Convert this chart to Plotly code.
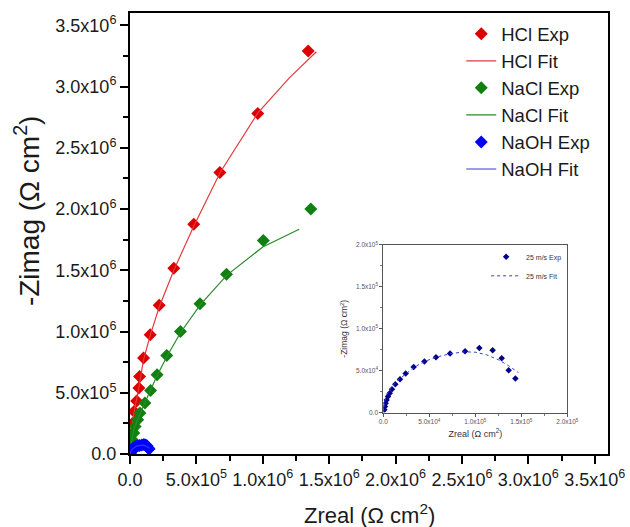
import plotly.graph_objects as go

# ---- Nyquist data (Zreal, -Zimag) in ohm cm^2 ----
hcl_exp_x = [0.002e6, 0.005e6, 0.010e6, 0.018e6, 0.030e6, 0.050e6, 0.067e6, 0.072e6,
             0.102e6, 0.152e6, 0.220e6, 0.330e6, 0.480e6, 0.677e6, 0.962e6, 1.342e6]
hcl_exp_y = [0.050e6, 0.100e6, 0.160e6, 0.250e6, 0.347e6, 0.432e6, 0.538e6, 0.632e6,
             0.783e6, 0.973e6, 1.215e6, 1.517e6, 1.876e6, 2.297e6, 2.780e6, 3.290e6]
hcl_fit_x = [0.0, 0.003e6, 0.010e6, 0.030e6, 0.050e6, 0.070e6, 0.100e6, 0.150e6, 0.220e6,
             0.330e6, 0.480e6, 0.680e6, 0.960e6, 1.200e6, 1.404e6]
hcl_fit_y = [0.0, 0.080e6, 0.180e6, 0.340e6, 0.440e6, 0.560e6, 0.760e6, 0.960e6, 1.200e6,
             1.500e6, 1.860e6, 2.300e6, 2.780e6, 3.070e6, 3.284e6]

nacl_exp_x = [0.003e6, 0.006e6, 0.010e6, 0.017e6, 0.028e6, 0.038e6, 0.058e6, 0.075e6,
              0.112e6, 0.155e6, 0.204e6, 0.277e6, 0.380e6, 0.527e6, 0.727e6, 1.004e6, 1.362e6]
nacl_exp_y = [0.025e6, 0.050e6, 0.080e6, 0.117e6, 0.171e6, 0.225e6, 0.280e6, 0.334e6,
              0.416e6, 0.518e6, 0.647e6, 0.804e6, 1.000e6, 1.226e6, 1.468e6, 1.742e6, 2.001e6]
nacl_fit_x = [0.0, 0.005e6, 0.015e6, 0.030e6, 0.060e6, 0.100e6, 0.150e6, 0.200e6, 0.280e6,
              0.380e6, 0.530e6, 0.730e6, 1.000e6, 1.274e6]
nacl_fit_y = [0.0, 0.060e6, 0.120e6, 0.200e6, 0.290e6, 0.390e6, 0.510e6, 0.630e6, 0.800e6,
              0.990e6, 1.220e6, 1.460e6, 1.690e6, 1.835e6]

naoh_exp_x = [0.011e5, 0.018e5, 0.025e5, 0.036e5, 0.051e5, 0.069e5, 0.094e5, 0.130e5,
              0.181e5, 0.243e5, 0.330e5, 0.446e5, 0.572e5, 0.725e5, 0.888e5, 1.043e5,
              1.188e5, 1.286e5, 1.362e5, 1.435e5]
naoh_exp_y = [0.032e5, 0.072e5, 0.111e5, 0.151e5, 0.191e5, 0.231e5, 0.278e5, 0.338e5,
              0.398e5, 0.465e5, 0.545e5, 0.608e5, 0.660e5, 0.704e5, 0.732e5, 0.771e5,
              0.744e5, 0.648e5, 0.505e5, 0.406e5]
naoh_fit_x = [0.0, 0.005e5, 0.015e5, 0.040e5, 0.080e5, 0.150e5, 0.250e5, 0.350e5, 0.450e5,
              0.570e5, 0.720e5, 0.880e5, 1.000e5, 1.120e5, 1.250e5, 1.360e5, 1.467e5]
naoh_fit_y = [0.0, 0.060e5, 0.140e5, 0.220e5, 0.290e5, 0.380e5, 0.470e5, 0.550e5, 0.610e5,
              0.660e5, 0.700e5, 0.725e5, 0.720e5, 0.690e5, 0.630e5, 0.560e5, 0.477e5]

# ---- tick labels ----
main_tickvals = [0, 0.5e6, 1.0e6, 1.5e6, 2.0e6, 2.5e6, 3.0e6, 3.5e6]
main_ticktext = ["0.0", "5.0x10<sup>5</sup>", "1.0x10<sup>6</sup>", "1.5x10<sup>6</sup>",
                 "2.0x10<sup>6</sup>", "2.5x10<sup>6</sup>", "3.0x10<sup>6</sup>",
                 "3.5x10<sup>6</sup>"]
inset_tickvals = [0, 0.5e5, 1.0e5, 1.5e5, 2.0e5]
inset_ticktext = ["0.0", "5.0x10<sup>4</sup>", "1.0x10<sup>5</sup>", "1.5x10<sup>5</sup>",
                  "2.0x10<sup>5</sup>"]

FONT = "Liberation Sans, Arial, sans-serif"
RED, GREEN, BLUE, NAVY = "#dd0000", "#108010", "#0000ff", "#00008b"

fig = go.Figure()

def exp_trace(x, y, name, color):
    return go.Scatter(x=x, y=y, mode="markers", name=name,
                      marker=dict(symbol="diamond", size=10, color=color, line=dict(width=0)))

def fit_trace(x, y, name, color):
    return go.Scatter(x=x, y=y, mode="lines", name=name,
                      line=dict(color=color, width=1.2))

fig.add_trace(exp_trace(hcl_exp_x, hcl_exp_y, "HCl Exp", RED))
fig.add_trace(fit_trace(hcl_fit_x, hcl_fit_y, "HCl Fit", "#e33a40"))
fig.add_trace(exp_trace(nacl_exp_x, nacl_exp_y, "NaCl Exp", GREEN))
fig.add_trace(fit_trace(nacl_fit_x, nacl_fit_y, "NaCl Fit", "#2a8a2a"))
fig.add_trace(exp_trace(naoh_exp_x, naoh_exp_y, "NaOH Exp", BLUE))
fig.add_trace(fit_trace(naoh_fit_x, naoh_fit_y, "NaOH Fit", "#3a3ae0"))

# inset: NaOH spectrum on its own scale
fig.add_trace(go.Scatter(x=naoh_exp_x, y=naoh_exp_y, mode="markers", name="25 m/s Exp",
                         xaxis="x2", yaxis="y2", legend="legend2",
                         marker=dict(symbol="diamond", size=5, color=NAVY, line=dict(width=0))))
fig.add_trace(go.Scatter(x=naoh_fit_x, y=naoh_fit_y, mode="lines", name="25 m/s Fit",
                         xaxis="x2", yaxis="y2", legend="legend2",
                         line=dict(color="#3a3ad0", width=1, dash="dot")))

main_axis = dict(
    showline=True, linewidth=2, linecolor="black", mirror=True,
    ticks="outside", ticklen=8, tickwidth=1.5, tickcolor="black",
    minor=dict(ticks="outside", ticklen=5, tickwidth=1.5, tickcolor="black",
               tickmode="linear", tick0=0, dtick=2.5e5),
    showgrid=False, zeroline=False, automargin=False, tickangle=0,
    tickmode="array", tickvals=main_tickvals, ticktext=main_ticktext,
    tickfont=dict(family=FONT, size=18, color="#1a1a1a"),
    range=[0, 3.6e6],
)
inset_axis = dict(
    showline=True, linewidth=1, linecolor="#555555", mirror=True,
    ticks="outside", ticklen=3, tickwidth=1, tickcolor="#555555",
    minor=dict(ticks="outside", ticklen=2, tickwidth=1, tickcolor="#777777",
               tickmode="linear", tick0=0, dtick=2.5e4),
    showgrid=False, zeroline=False, automargin=False, tickangle=0,
    tickmode="array", tickvals=inset_tickvals, ticktext=inset_ticktext,
    tickfont=dict(family=FONT, size=6.5, color="#555555"),
    range=[0, 2.0e5],
)

fig.update_layout(
    width=630, height=527,
    margin=dict(l=130, r=22, t=13, b=73),
    paper_bgcolor="white", plot_bgcolor="white",
    font=dict(family=FONT, color="#1a1a1a"),
    xaxis=dict(main_axis, domain=[0, 1]),
    yaxis=dict(main_axis, domain=[0, 1]),
    xaxis2=dict(inset_axis, domain=[0.530, 0.915], anchor="y2",
                title=dict(text="Zreal (\u03a9 cm<sup>2</sup>)", standoff=6,
                           font=dict(family=FONT, size=9, color="#333333"))),
    yaxis2=dict(inset_axis, domain=[0.094, 0.474], anchor="x2",
                title=dict(text="-Zimag (\u03a9 cm<sup>2</sup>)", standoff=6,
                           font=dict(family=FONT, size=8.5, color="#333333"))),
    legend=dict(x=0.693, y=0.995, xanchor="left", yanchor="top",
                bgcolor="rgba(0,0,0,0)", font=dict(family=FONT, size=18.5, color="#1a1a1a"),
                tracegroupgap=0),
    legend2=dict(x=0.745, y=0.48, xanchor="left", yanchor="top",
                 bgcolor="rgba(0,0,0,0)", font=dict(family=FONT, size=7, color="#333333")),
    annotations=[
        dict(text="-Zimag (\u03a9 cm<sup>2</sup>)", xref="paper", yref="paper",
             x=-0.2155, y=0.553, xanchor="center", yanchor="middle", textangle=-90,
             showarrow=False, font=dict(family=FONT, size=28, color="#1a1a1a")),
        dict(text="Zreal (\u03a9 cm<sup>2</sup>)", xref="paper", yref="paper",
             x=0.5, y=-0.136, xanchor="center", yanchor="middle",
             showarrow=False, font=dict(family=FONT, size=22, color="#1a1a1a")),
    ],
)

fig.write_html("out.html")
